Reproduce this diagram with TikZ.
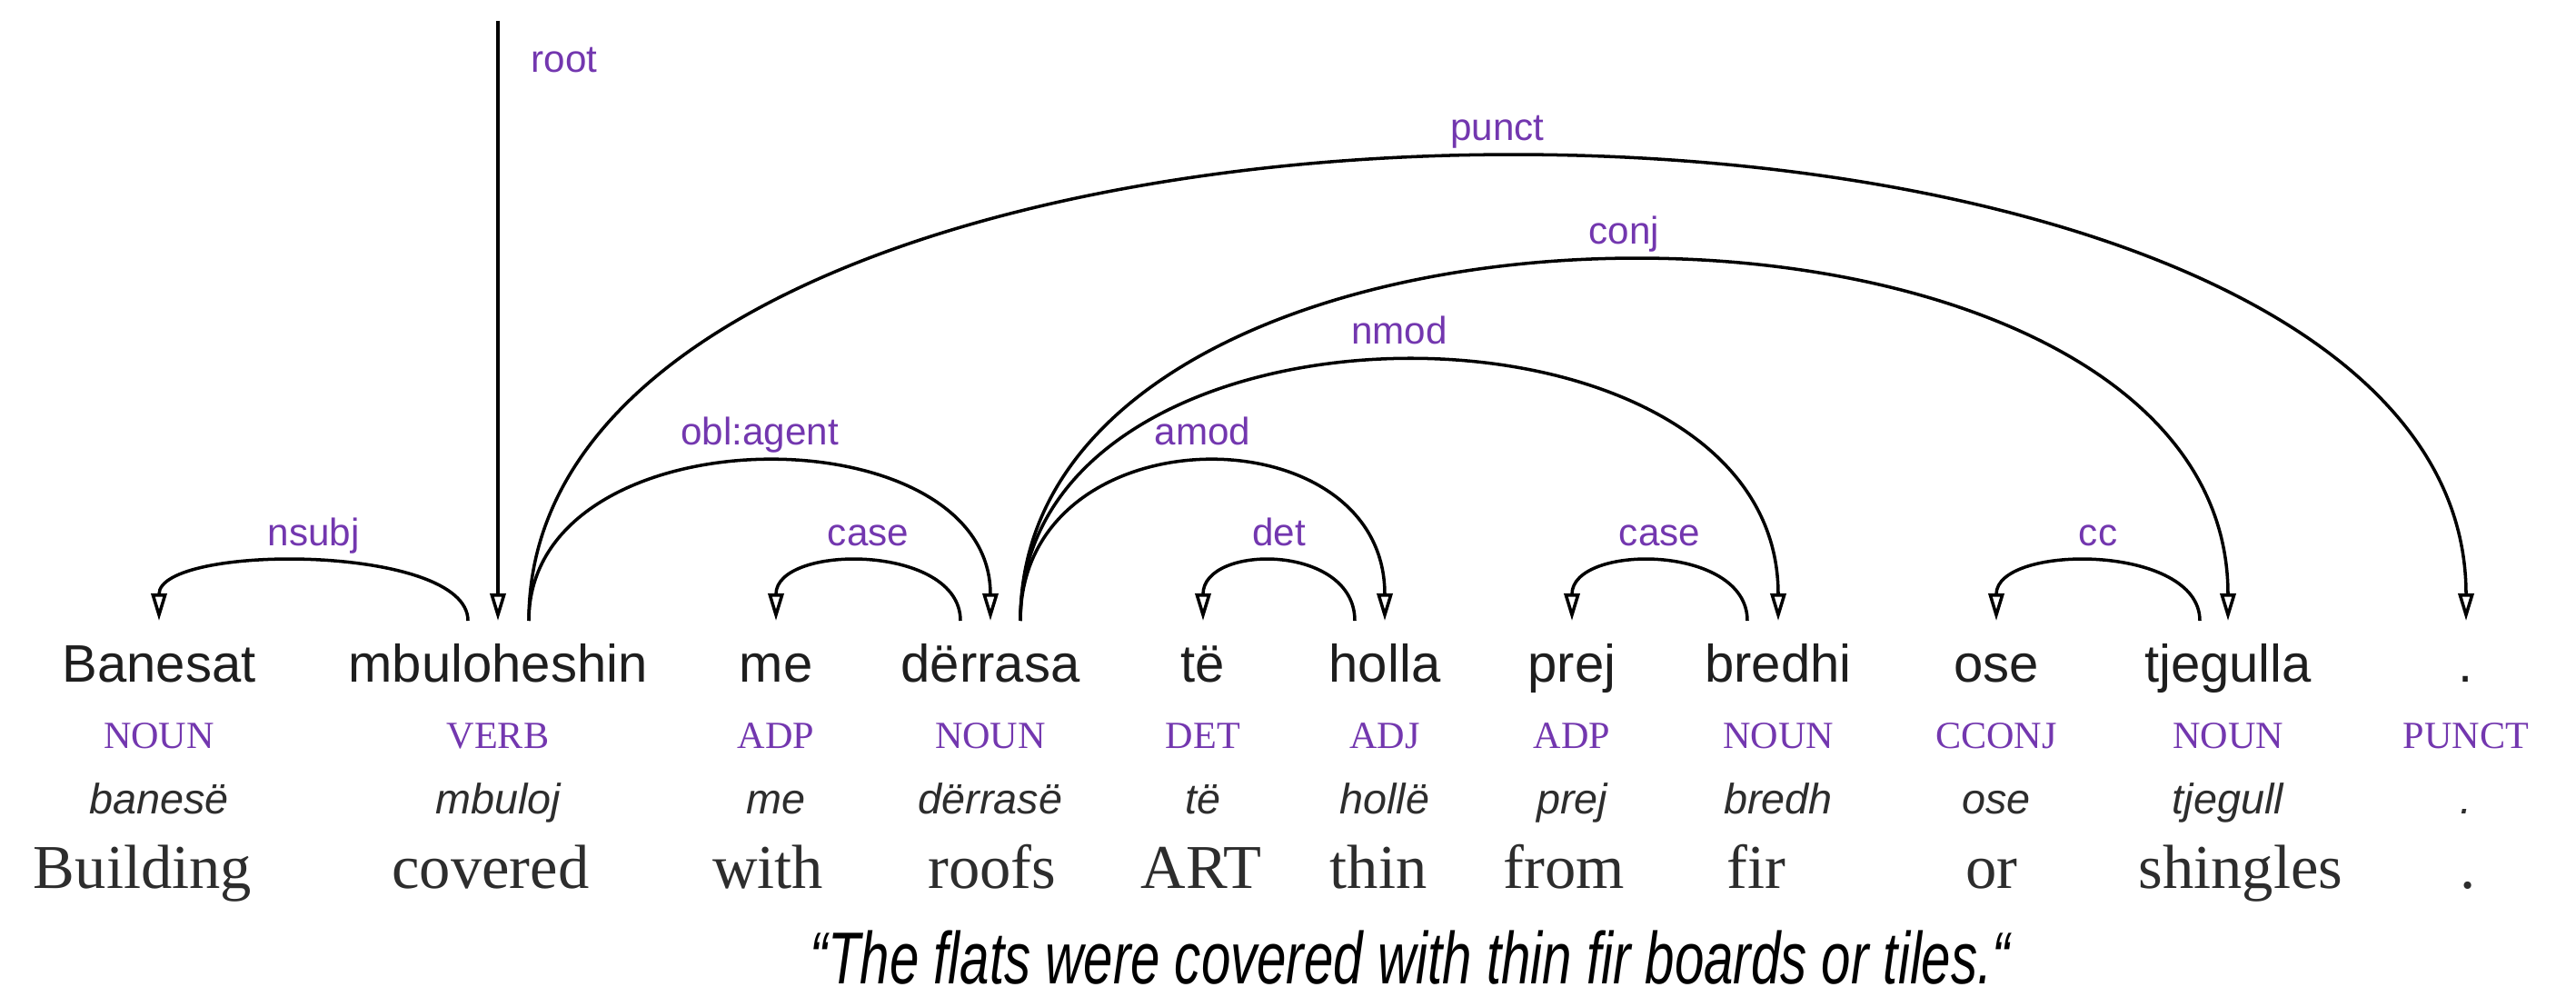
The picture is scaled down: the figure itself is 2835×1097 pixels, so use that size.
\documentclass[tikz,border=0pt]{standalone}
\usepackage{fontspec}
\setmainfont{Liberation Serif}
\newfontfamily\sansf{Liberation Sans}
\newfontfamily\transf[FakeStretch=0.72]{Liberation Sans}
\usetikzlibrary{arrows.meta,calc}
\definecolor{purp}{RGB}{115,55,175}
\definecolor{ink}{RGB}{30,30,30}
\definecolor{lem}{RGB}{45,45,45}
\begin{document}
\begin{tikzpicture}[x=0.01cm,y=-0.01cm,
  word/.style={anchor=base,inner sep=0,text=ink,font=\sansf\fontsize{16.5}{18}\selectfont},
  postag/.style={anchor=base,inner sep=0,text=purp,font=\rmfamily\fontsize{12}{14}\selectfont},
  lemma/.style={anchor=base,inner sep=0,text=lem,font=\sansf\itshape\fontsize{13.3}{15}\selectfont},
  gloss/.style={anchor=base,inner sep=0,text=lem,font=\rmfamily\fontsize{19.5}{22}\selectfont},
  rel/.style={anchor=base,inner sep=0,text=purp,font=\sansf\fontsize{12}{14}\selectfont},
  dep/.style={line width=1pt,-{Triangle[open,length=0.3cm,width=0.17cm]}},
]
\useasboundingbox[fill=white] (0,0) rectangle (2835,1097);

\foreach \n/\x/\w/\p/\l in {1/175/Banesat/NOUN/banesë,2/548/mbuloheshin/VERB/mbuloj,3/854/me/ADP/me,4/1090/dërrasa/NOUN/dërrasë,5/1324/të/DET/të,6/1524/holla/ADJ/hollë,7/1730/prej/ADP/prej,8/1957/bredhi/NOUN/bredh,9/2197/ose/CCONJ/ose,10/2452/tjegulla/NOUN/tjegull,11/2714/./PUNCT/.}{
  \node[word] (w\n) at (\x,750) {\w};
  \node[postag] (p\n) at (\x,823) {\p};
  \node[lemma] (l\n) at (\x,895) {\l};
  \coordinate (w\n T) at ($(w\n.base)+(0,-67)$);
}
\foreach \n/\x/\g in {1/157/Building,2/540/covered,3/845/with,4/1092/roofs,5/1322/ART,6/1517/thin,7/1721/from,8/1933/fir,9/2192/or,10/2466/shingles,11/2716/.}{
  \node[gloss] (g\n) at (\x,977) {\g};
}
\node[anchor=base,inner sep=0,font=\transf\itshape\fontsize{23}{26}\selectfont] (tr) at (1552,1082) {“The flats were covered with thin fir boards or tiles.“};

% arc start points
\coordinate (w2L) at ($(w2.base)+(-33,-67)$);
\coordinate (w2R) at ($(w2.base)+(34,-67)$);
\coordinate (w4L) at ($(w4.base)+(-33,-67)$);
\coordinate (w4R) at ($(w4.base)+(33,-67)$);
\coordinate (w6L) at ($(w6.base)+(-33,-67)$);
\coordinate (w8L) at ($(w8.base)+(-34,-67)$);
\coordinate (w10L) at ($(w10.base)+(-31,-67)$);
\coordinate (rootTop) at ($(w2.base)+(0,-727)$);

% root
\draw[dep] (rootTop) -- (w2T);
\node[rel,anchor=base west] (lroot) at (584,80) {root};

% arcs (height h -> control offset 4h/3)
\draw[dep] (w2L) .. controls +(0,-85) and +(0,-85) .. (w1T) node[rel,pos=0.5,yshift=0.19cm] {nsubj};
\draw[dep] (w2R) .. controls +(0,-232) and +(0,-232) .. (w4T) node[rel,pos=0.5,yshift=0.19cm] {obl:agent};
\draw[dep] (w2R) .. controls +(0,-679) and +(0,-679) .. (w11T) node[rel,pos=0.5,yshift=0.19cm] {punct};
\draw[dep] (w4L) .. controls +(0,-85) and +(0,-85) .. (w3T) node[rel,pos=0.5,yshift=0.19cm] {case};
\draw[dep] (w4R) .. controls +(0,-232) and +(0,-232) .. (w6T) node[rel,pos=0.5,yshift=0.19cm] {amod};
\draw[dep] (w4R) .. controls +(0,-380) and +(0,-380) .. (w8T) node[rel,pos=0.5,yshift=0.19cm] {nmod};
\draw[dep] (w4R) .. controls +(0,-527) and +(0,-527) .. (w10T) node[rel,pos=0.5,yshift=0.19cm] {conj};
\draw[dep] (w6L) .. controls +(0,-85) and +(0,-85) .. (w5T) node[rel,pos=0.5,yshift=0.19cm] {det};
\draw[dep] (w8L) .. controls +(0,-85) and +(0,-85) .. (w7T) node[rel,pos=0.5,yshift=0.19cm] {case};
\draw[dep] (w10L) .. controls +(0,-85) and +(0,-85) .. (w9T) node[rel,pos=0.5,yshift=0.19cm] {cc};
\end{tikzpicture}
\end{document}
